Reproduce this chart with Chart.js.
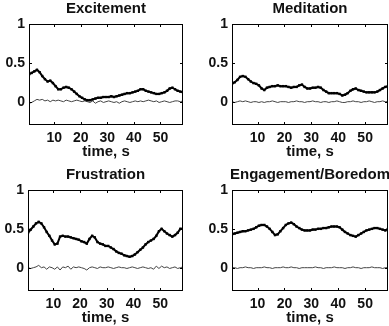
<!DOCTYPE html>
<html lang="en">
<head>
  <meta charset="UTF-8">
  <title>Affective states over time</title>
  <style>
    body {
      margin: 0;
      background: #fff;
      overflow: hidden;
      width: 389px;
      height: 326px;
      position: relative;
    }
    canvas {
      position: absolute;
    }
  </style>
  <script src="https://cdn.jsdelivr.net/npm/chart.js"></script>
</head>
<body>

  <canvas id="excitement" width="212" height="161" style="left:0px;top:0px"></canvas>
  <canvas id="meditation" width="214" height="161" style="left:203px;top:0px"></canvas>
  <canvas id="frustration" width="211" height="161" style="left:0px;top:166px"></canvas>
  <canvas id="engagement" width="214" height="161" style="left:203px;top:166px"></canvas>

  <script>
    // time axis (s), one sample per second
    const time = [0.5,1.5,2.5,3.5,4.5,5.5,6.5,7.5,8.5,9.5,
      10.5,11.5,12.5,13.5,14.5,15.5,16.5,17.5,18.5,19.5,
      20.5,21.5,22.5,23.5,24.5,25.5,26.5,27.5,28.5,29.5,
      30.5,31.5,32.5,33.5,34.5,35.5,36.5,37.5,38.5,39.5,
      40.5,41.5,42.5,43.5,44.5,45.5,46.5,47.5,48.5,49.5,
      50.5,51.5,52.5,53.5,54.5,55.5,56.5,57.5,58.5];

    const xTicks = [10, 20, 30, 40, 50];
    const yTicks = [0, 0.5, 1];

    const excitement = [0.35,0.37,0.39,0.41,0.38,0.33,0.29,0.26,0.27,0.24,
      0.20,0.16,0.16,0.18,0.19,0.18,0.16,0.13,0.10,0.07,
      0.05,0.03,0.02,0.02,0.03,0.04,0.05,0.05,0.06,0.06,
      0.06,0.07,0.06,0.07,0.08,0.09,0.10,0.11,0.11,0.12,
      0.13,0.14,0.16,0.16,0.14,0.13,0.12,0.11,0.10,0.10,
      0.11,0.12,0.14,0.17,0.18,0.16,0.14,0.13,0.12];
    const excitementNoise = [-0.02,-0.01,0.01,0.03,0.02,0.03,0.01,0.02,0.00,0.02,
      0.01,0.02,0.01,0.00,0.02,0.01,0.00,0.01,0.02,0.01,
      0.00,0.01,0.00,-0.01,0.01,-0.02,0.00,0.01,-0.01,0.00,
      0.01,0.00,-0.01,0.00,-0.02,0.00,0.01,0.00,-0.01,0.00,
      0.01,0.00,0.01,0.00,0.01,0.02,0.01,0.00,0.01,-0.01,
      0.00,0.01,0.00,-0.01,0.00,0.01,0.01,0.00,0.01];

    const meditation = [0.23,0.25,0.28,0.32,0.33,0.32,0.29,0.26,0.24,0.23,
      0.21,0.17,0.15,0.18,0.19,0.20,0.20,0.21,0.20,0.20,
      0.20,0.19,0.18,0.19,0.19,0.21,0.22,0.19,0.17,0.17,
      0.18,0.18,0.19,0.18,0.15,0.13,0.11,0.11,0.11,0.11,
      0.10,0.08,0.09,0.11,0.14,0.16,0.17,0.15,0.14,0.13,
      0.12,0.12,0.12,0.12,0.13,0.15,0.17,0.19,0.20];
    const meditationNoise = [0.00,-0.01,0.00,0.01,0.00,0.01,0.00,-0.01,0.00,0.00,
      -0.01,0.00,-0.01,0.00,0.00,0.01,0.00,-0.01,0.00,0.00,
      0.00,-0.01,0.00,0.00,0.01,0.00,0.00,-0.01,0.00,0.00,
      0.01,0.00,0.00,-0.01,0.00,0.00,-0.01,0.00,0.00,0.01,
      0.00,-0.01,-0.01,0.00,0.00,0.01,0.00,0.00,-0.01,0.00,
      0.00,0.01,0.00,-0.01,0.00,0.00,0.01,0.00,0.00];

    const frustration = [0.45,0.49,0.53,0.57,0.59,0.57,0.52,0.46,0.41,0.35,
      0.30,0.31,0.40,0.41,0.40,0.40,0.39,0.38,0.37,0.36,
      0.34,0.33,0.31,0.37,0.41,0.39,0.33,0.31,0.30,0.28,
      0.28,0.26,0.24,0.21,0.19,0.18,0.16,0.15,0.14,0.15,
      0.17,0.20,0.23,0.26,0.30,0.33,0.35,0.37,0.41,0.47,
      0.50,0.47,0.44,0.42,0.40,0.42,0.45,0.50,0.50];
    const frustrationNoise = [0.00,-0.01,0.00,0.01,0.03,0.00,0.01,-0.02,0.01,0.00,
      -0.02,0.01,-0.03,0.01,0.00,0.02,-0.02,0.01,0.00,0.01,
      0.00,-0.01,-0.03,0.00,0.01,0.00,-0.01,0.01,0.00,0.00,
      0.01,0.00,-0.01,0.00,0.01,0.00,0.00,-0.01,0.00,0.01,
      0.00,-0.01,0.00,0.01,0.00,-0.01,0.00,-0.02,0.02,-0.01,
      0.02,0.00,0.01,-0.01,0.00,0.01,-0.01,0.00,0.01];

    const engagement = [0.43,0.44,0.45,0.46,0.47,0.47,0.48,0.49,0.50,0.52,
      0.54,0.55,0.55,0.53,0.50,0.46,0.42,0.43,0.47,0.51,
      0.55,0.57,0.58,0.56,0.53,0.51,0.49,0.48,0.48,0.48,
      0.49,0.49,0.50,0.50,0.51,0.51,0.52,0.53,0.53,0.53,
      0.52,0.49,0.46,0.44,0.42,0.41,0.40,0.42,0.44,0.46,
      0.48,0.49,0.50,0.51,0.51,0.50,0.49,0.48,0.50];
    const engagementNoise = [0.00,0.00,-0.01,0.00,0.00,0.01,0.00,0.00,-0.01,0.00,
      0.00,0.00,0.01,0.00,0.00,-0.01,0.00,0.00,0.00,0.01,
      0.00,0.00,0.01,0.00,0.00,-0.01,0.00,0.00,0.00,0.00,
      0.00,0.01,0.00,0.00,-0.01,0.00,0.00,0.00,0.01,0.00,
      0.00,0.00,-0.01,0.00,0.00,0.01,0.00,0.00,-0.01,0.00,
      0.00,0.00,0.01,0.00,0.00,0.00,-0.01,0.00,0.00];

    Chart.defaults.font.family = "'Liberation Sans', Arial, sans-serif";
    Chart.defaults.color = '#111';

    // box around the plot area plus matlab-style inward ticks
    const frame = {
      id: 'frame',
      afterDraw(chart) {
        const { ctx, chartArea: a, scales } = chart;
        ctx.save();
        ctx.strokeStyle = '#000';
        ctx.lineWidth = 1;
        ctx.strokeRect(Math.round(a.left) + 0.5, Math.round(a.top) + 0.5,
          Math.round(a.right - a.left) - 1, Math.round(a.bottom - a.top) - 1);
        ctx.beginPath();
        scales.x.ticks.forEach(t => {
          const px = Math.round(scales.x.getPixelForValue(t.value)) + 0.5;
          ctx.moveTo(px, a.bottom); ctx.lineTo(px, a.bottom - 3);
          ctx.moveTo(px, a.top); ctx.lineTo(px, a.top + 3);
        });
        scales.y.ticks.forEach(t => {
          const py = Math.round(scales.y.getPixelForValue(t.value)) + 0.5;
          ctx.moveTo(a.left, py); ctx.lineTo(a.left + 3, py);
          ctx.moveTo(a.right, py); ctx.lineTo(a.right - 3, py);
        });
        ctx.stroke();
        ctx.restore();
      }
    };

    function toPoints(values) {
      return values.map((v, i) => ({ x: time[i], y: v }));
    }

    function makePanel(id, title, signal, noise, axisWidth) {
      return new Chart(document.getElementById(id), {
        type: 'line',
        data: {
          datasets: [{
            data: toPoints(signal),
            borderColor: '#000',
            borderWidth: 2,
            pointStyle: 'rect',
            pointRadius: 1.7,
            pointBackgroundColor: '#000',
            pointBorderWidth: 0,
            tension: 0
          }, {
            data: toPoints(noise),
            borderColor: '#444',
            borderWidth: 1,
            pointRadius: 0,
            tension: 0
          }]
        },
        options: {
          responsive: false,
          animation: false,
          events: [],
          layout: { padding: 0 },
          plugins: {
            legend: { display: false },
            tooltip: { enabled: false },
            title: {
              display: true,
              text: title,
              font: { size: 15, weight: 'bold' },
              padding: { top: 0, bottom: 6 }
            }
          },
          scales: {
            x: {
              type: 'linear',
              min: 0.5,
              max: 58.5,
              afterBuildTicks: s => { s.ticks = xTicks.map(v => ({ value: v })); },
              afterFit: s => { s.height = 36; },
              grid: { display: false, drawTicks: false },
              border: { display: false },
              ticks: { padding: 5, font: { size: 14, weight: 'bold' }, maxRotation: 0, autoSkip: false },
              title: { display: true, text: 'time, s', font: { size: 15, weight: 'bold' }, padding: 0 }
            },
            y: {
              min: -0.3,
              max: 1,
              afterBuildTicks: s => { s.ticks = yTicks.map(v => ({ value: v })); },
              afterFit: s => { s.width = axisWidth; },
              grid: { display: false, drawTicks: false },
              border: { display: false },
              ticks: { padding: 4, font: { size: 14, weight: 'bold' }, callback: v => String(v) }
            },
            // empty right axis, same width as the left one, so the title sits centred over the box
            yRight: {
              position: 'right',
              min: -0.3,
              max: 1,
              afterFit: s => { s.width = axisWidth; },
              grid: { display: false, drawTicks: false },
              border: { display: false },
              ticks: { display: false }
            }
          }
        },
        plugins: [frame]
      });
    }

    makePanel('excitement', 'Excitement', excitement, excitementNoise, 29);
    makePanel('meditation', 'Meditation', meditation, meditationNoise, 29);
    makePanel('frustration', 'Frustration', frustration, frustrationNoise, 28);
    makePanel('engagement', 'Engagement/Boredom', engagement, engagementNoise, 29);
  </script>

</body>
</html>
